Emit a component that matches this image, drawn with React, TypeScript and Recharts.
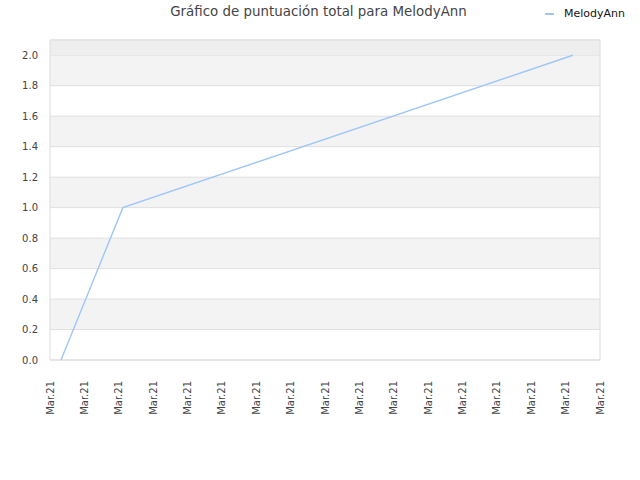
import { CartesianGrid, Line, LineChart, ReferenceArea, XAxis, YAxis } from "recharts";

const SERIES_NAME = "MelodyAnn";
const TITLE = "Gráfico de puntuación total para MelodyAnn";

// x is the position along the time axis, measured in tick steps
const POINT_X = [0.32, 2.12, 15.21];
const POINT_Y = [0, 1, 2];

const X_TICKS = [0, 1, 2, 3, 4, 5, 6, 7, 8, 9, 10, 11, 12, 13, 14, 15, 16];
const X_TICK_LABEL = "Mar.21";
const Y_TICKS = [0, 0.2, 0.4, 0.6, 0.8, 1.0, 1.2, 1.4, 1.6, 1.8, 2.0];

const LINE_COLOR = "#9ec6f6";
const FONT = "'DejaVu Sans', sans-serif";

const data = POINT_X.map((x, i) => ({ x, y: POINT_Y[i] }));

function XTick(props: any) {
  const { x, y } = props;
  return (
    <text
      x={x}
      y={y}
      transform={`rotate(-90, ${x}, ${y})`}
      dx={-13}
      dy={3.5}
      textAnchor="end"
      fontSize={10}
      fontFamily={FONT}
      fill="#444"
    >
      {X_TICK_LABEL}
    </text>
  );
}

export default function App() {
  return (
    <div style={{ position: "absolute", left: 0, top: 0, width: 640, height: 480, background: "#fff" }}>
      <div
        style={{
          position: "absolute",
          left: 0,
          top: 4,
          width: 637,
          textAlign: "center",
          fontFamily: FONT,
          fontSize: 13.4,
          color: "#444",
        }}
      >
        {TITLE}
      </div>
      <div
        style={{
          position: "absolute",
          left: 545,
          top: 7,
          display: "flex",
          alignItems: "center",
          fontFamily: FONT,
          fontSize: 11,
          color: "#111",
        }}
      >
        <span style={{ display: "inline-block", width: 9, height: 2, background: LINE_COLOR, marginRight: 10 }} />
        {SERIES_NAME}
      </div>
      <LineChart width={640} height={480} data={data} margin={{ top: 40, right: 40, left: 0, bottom: 0 }}>
        <CartesianGrid
          vertical={false}
          stroke="#e0e0e0"
          horizontalFill={["#ffffff", "#f3f3f3"]}
          fillOpacity={1}
        />
        <ReferenceArea y1={2.0} y2={2.1} fill="#eeeeee" fillOpacity={1} stroke="none" />
        <ReferenceArea y1={0} y2={2.1} fill="none" stroke="#dcdcdc" strokeWidth={1} />
        <XAxis
          dataKey="x"
          type="number"
          domain={[0, 16]}
          ticks={X_TICKS}
          interval={0}
          height={120}
          axisLine={false}
          tickLine={false}
          tick={<XTick />}
        />
        <YAxis
          type="number"
          domain={[0, 2.1]}
          ticks={Y_TICKS}
          interval={0}
          width={50}
          axisLine={false}
          tickLine={false}
          tickFormatter={(v: number) => v.toFixed(1)}
          tick={{ fontSize: 10, fontFamily: FONT, fill: "#444" }}
          tickMargin={6}
        />
        <Line
          type="linear"
          dataKey="y"
          stroke={LINE_COLOR}
          strokeWidth={1.4}
          dot={false}
          isAnimationActive={false}
        />
      </LineChart>
    </div>
  );
}
